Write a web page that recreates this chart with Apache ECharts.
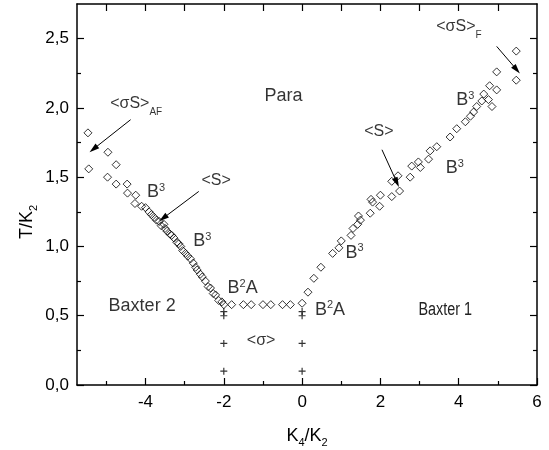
<!DOCTYPE html>
<html>
<head>
<meta charset="utf-8">
<script src="https://cdn.jsdelivr.net/npm/echarts@6/dist/echarts.min.js"></script>
<style>
    html, body { margin: 0; padding: 0; background: #fff; }
    #chart { width: 549px; height: 450px; }
</style>
</head>
<body>
<div id="chart"></div>
<script>
// points: [K4/K2, T/K2]
var leftBranch = [
    [-5.47, 1.82], [-5.45, 1.56], [-4.96, 1.68], [-4.75, 1.59], [-4.97, 1.50], [-4.75, 1.45],
    [-4.47, 1.45], [-4.46, 1.385], [-4.25, 1.37], [-4.27, 1.31], [-4.10, 1.29], [-4.0, 1.28],
    [-3.91, 1.25], [-3.85, 1.23], [-3.78, 1.21], [-3.72, 1.19], [-3.65, 1.18], [-3.6, 1.15],
    [-3.53, 1.16], [-3.5, 1.13], [-3.45, 1.11], [-3.38, 1.09], [-3.33, 1.08], [-3.27, 1.06],
    [-3.2, 1.03], [-3.15, 1.02], [-3.1, 1.0], [-3.05, 0.97], [-2.98, 0.95], [-2.92, 0.93],
    [-2.85, 0.91], [-2.78, 0.88], [-2.72, 0.85], [-2.68, 0.83], [-2.6, 0.80], [-2.55, 0.78],
    [-2.47, 0.75], [-2.4, 0.71], [-2.34, 0.70], [-2.27, 0.66], [-2.21, 0.65], [-2.13, 0.61],
    [-2.05, 0.60], [-2.0, 0.58]
];
var flatBranch = [
    [-1.8, 0.58], [-1.5, 0.58], [-1.3, 0.58], [-1.0, 0.58], [-0.8, 0.58], [-0.5, 0.58], [-0.3, 0.58]
];
var rightBranch = [
    [0.0, 0.59], [0.15, 0.67], [0.3, 0.77], [0.48, 0.85], [0.78, 0.95], [0.94, 0.99], [1.0, 1.04],
    [1.25, 1.08], [1.3, 1.13], [1.42, 1.16], [1.49, 1.19], [1.44, 1.22], [1.74, 1.24], [1.8, 1.32],
    [1.76, 1.34], [1.98, 1.29], [2.0, 1.37], [2.29, 1.36], [2.49, 1.40], [2.29, 1.47], [2.45, 1.51],
    [2.76, 1.50], [2.8, 1.58], [2.97, 1.61], [3.02, 1.57], [3.23, 1.63], [3.27, 1.69], [3.44, 1.72],
    [3.78, 1.79], [3.95, 1.85], [4.17, 1.90], [4.3, 1.94], [4.38, 1.97], [4.46, 2.01], [4.59, 2.05],
    [4.64, 2.10], [4.76, 2.06], [4.79, 2.16], [4.85, 2.01], [4.97, 2.13], [4.97, 2.26], [5.47, 2.41],
    [5.47, 2.20]
];
var crossPoints = [
    [-2, 0.53], [-2, 0.5], [-2, 0.3], [-2, 0.1],
    [0, 0.53], [0, 0.5], [0, 0.3], [0, 0.1]
];

var xMajorTicks = [-4, -2, 0, 2, 4, 6];
var xMinorTicks = [-5, -3, -1, 1, 3, 5];
var xTopTicks = [-5, -4, -3, -2, -1, 0, 1, 2, 3, 4, 5];
var yMajorTicks = [0, 0.5, 1, 1.5, 2, 2.5];
var yMinorTicks = [0.25, 0.75, 1.25, 1.75, 2.25];

// text in the plot (data coords, left edge / vertical middle)
var noteTexts = [
    '{st|<σS>}{sub|AF}', '{s|<S>}', '{b|B}{sup|3}', '{b|B}{sup|3}', '{b|Para}',
    '{b|B}{sup|2}{b|A}', '{b|Baxter 2}', '{s|<σ>}', '{b|B}{sup|2}{b|A}',
    '{b|B}{sup|3}', '{s|<S>}', '{b|B}{sup|3}', '{b|B}{sup|3}', '{st|<σS>}{sub|F}'
];
var notePos = [
    [-4.89, 2.03], [-2.56, 1.474], [-3.95, 1.387], [-2.77, 1.035], [-0.95, 2.08],
    [-1.89, 0.695], [-4.93, 0.566], [-1.40, 0.318], [0.34, 0.54],
    [1.12, 0.95], [1.60, 1.824], [3.68, 1.56], [3.95, 2.05], [3.44, 2.583]
];
// narrow label in the original
var baxter1Text = 'Baxter 1';
var baxter1Pos = [2.97, 0.54];

var arrows = [
    [[-4.38, 1.915], [-5.33, 1.703]],
    [[-2.64, 1.397], [-3.55, 1.204]],
    [[2.04, 1.698], [2.42, 1.462]],
    [[4.97, 2.444], [5.48, 2.276]]
];

var font = 'Liberation Sans';
var black = '#000';

function xAxisDef(pos, ticks, len, line, labels) {
    return {
        type: 'value', position: pos, min: -5.75, max: 6,
        axisLine: { show: line, onZero: false, lineStyle: { color: black, width: 1.5 } },
        axisTick: { show: true, inside: true, length: len, customValues: ticks,
            lineStyle: { color: black, width: 1.2 } },
        axisLabel: { show: labels, customValues: ticks, margin: 9, color: black,
            fontFamily: font, fontSize: 17, formatter: function (v) { return String(v); } },
        splitLine: { show: false }
    };
}
function yAxisDef(pos, ticks, len, line, labels) {
    return {
        type: 'value', position: pos, min: 0, max: 2.75,
        axisLine: { show: line, onZero: false, lineStyle: { color: black, width: 1.5 } },
        axisTick: { show: true, inside: true, length: len, customValues: ticks,
            lineStyle: { color: black, width: 1.2 } },
        axisLabel: { show: labels, customValues: ticks, margin: 8, color: black,
            fontFamily: font, fontSize: 17,
            formatter: function (v) { return v.toFixed(1).replace('.', ','); } },
        splitLine: { show: false }
    };
}

var myChart = echarts.init(document.getElementById('chart'));

myChart.setOption({
    animation: false,
    grid: { left: 77, right: 12, top: 4, bottom: 65 },
    xAxis: [
        xAxisDef('bottom', xMajorTicks, 7, true, true),
        xAxisDef('bottom', xMinorTicks, 4, false, false),
        xAxisDef('top', xTopTicks, 7, true, false)
    ],
    yAxis: [
        yAxisDef('left', yMajorTicks, 7, true, true),
        yAxisDef('left', yMinorTicks, 4, false, false),
        yAxisDef('right', yMajorTicks, 7, true, false),
        yAxisDef('right', yMinorTicks, 4, false, false)
    ],
    series: [
        {
            type: 'scatter', symbol: 'diamond', symbolSize: 8,
            data: leftBranch.concat(flatBranch, rightBranch),
            itemStyle: { color: 'transparent', borderColor: black, borderWidth: 1 },
            silent: true
        },
        {
            type: 'scatter',
            symbol: 'path://M2.5,0H3.5V2.5H6V3.5H3.5V6H2.5V3.5H0V2.5H2.5Z', symbolSize: 7,
            data: crossPoints,
            itemStyle: { color: black },
            silent: true
        },
        {
            // labels + arrows
            type: 'scatter', symbolSize: 1, silent: true,
            itemStyle: { color: 'transparent' },
            data: notePos.map(function (p, i) { return { value: p, name: noteTexts[i] }; }),
            label: {
                show: true, position: [0, 0], align: 'left', verticalAlign: 'middle',
                formatter: function (p) { return p.name; },
                color: black, fontFamily: font,
                rich: {
                    b: { fontSize: 18, lineHeight: 20, fontFamily: font, color: black },
                    s: { fontSize: 16, lineHeight: 20, fontFamily: font, color: black },
                    st: { fontSize: 16, lineHeight: 28, fontFamily: font, color: black },
                    sup: { fontSize: 11, lineHeight: 12, verticalAlign: 'top', fontFamily: font, color: black },
                    sub: { fontSize: 10, lineHeight: 12, verticalAlign: 'bottom', fontFamily: font, color: black }
                }
            },
            markLine: {
                silent: true, animation: false,
                symbol: ['none', 'triangle'], symbolSize: [6, 10],
                lineStyle: { color: black, width: 1, type: 'solid' },
                label: { show: false },
                data: arrows.map(function (a) {
                    return [{ coord: a[0] }, { coord: a[1] }];
                })
            }
        }
    ],
    graphic: [
        {
            type: 'text', x: 27, y: 222, rotation: Math.PI / 2,
            style: {
                text: '{a|T/K}{s|2}', align: 'center', verticalAlign: 'middle',
                rich: {
                    a: { fontSize: 18, lineHeight: 24, fontFamily: font, color: black },
                    s: { fontSize: 11, lineHeight: 12, verticalAlign: 'bottom', fontFamily: font, color: black }
                }
            }
        },
        {
            type: 'text', x: 307, y: 436,
            style: {
                text: '{a|K}{s|4}{a|/K}{s|2}', align: 'center', verticalAlign: 'middle',
                rich: {
                    a: { fontSize: 18, lineHeight: 24, fontFamily: font, color: black },
                    s: { fontSize: 11, lineHeight: 12, verticalAlign: 'bottom', fontFamily: font, color: black }
                }
            }
        }
    ]
});

// squeezed "Baxter 1" label, placed through the axes
var bp = myChart.convertToPixel({ gridIndex: 0 }, baxter1Pos);
myChart.setOption({
    graphic: [
        {}, {},
        {
            type: 'text', x: bp[0], y: bp[1], scaleX: 0.8,
            style: {
                text: baxter1Text, align: 'left', verticalAlign: 'middle',
                fontSize: 18, fontFamily: font, fill: '#222'
            }
        }
    ]
});
</script>
</body>
</html>
